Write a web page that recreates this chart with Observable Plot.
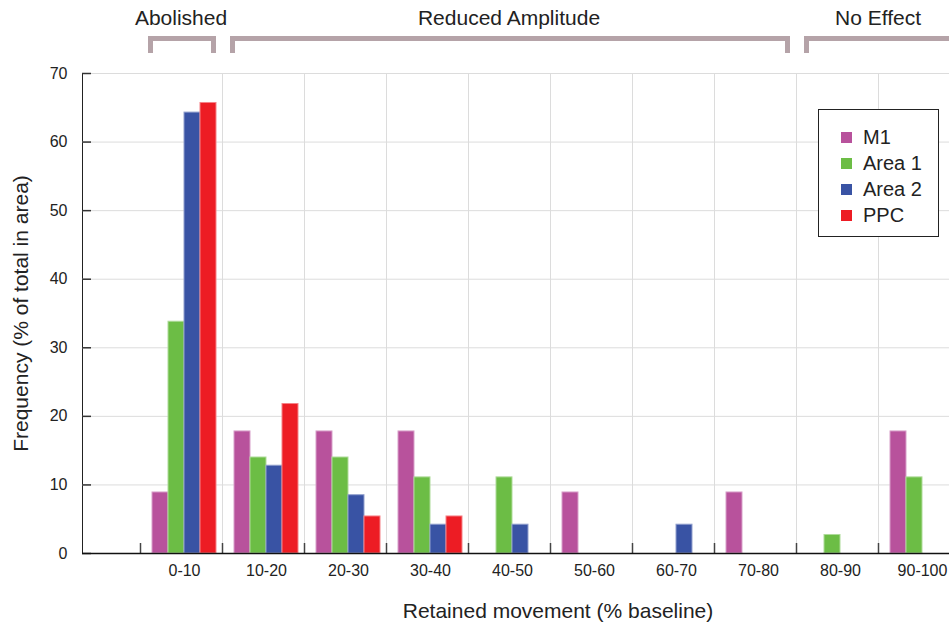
<!DOCTYPE html>
<html>
<head>
<meta charset="utf-8">
<script src="https://cdn.jsdelivr.net/npm/d3@7"></script>
<script src="https://cdn.jsdelivr.net/npm/@observablehq/plot@0.6"></script>
<style>
  body { margin: 0; background: #fff; font-family: Arial, "Liberation Sans", sans-serif; }
  #wrap { position: relative; width: 949px; height: 627px; overflow: hidden; background: #fff; }
  #legend {
    position: absolute; left: 818px; top: 109px; width: 121px; height: 128px;
    box-sizing: border-box; border: 1.5px solid #222; background: #fff;
    padding: 14px 0 0 22px; color: #222; font-size: 20px;
  }
  #legend .item { display: flex; align-items: center; height: 26px; line-height: 26px; }
  #legend .swatch { width: 11px; height: 11px; margin-right: 11px; flex: none; }
</style>
</head>
<body>
<div id="wrap"></div>
<script>
// Retained movement bins (% of baseline)
const bins = ["0-10", "10-20", "20-30", "30-40", "40-50", "50-60", "60-70", "70-80", "80-90", "90-100"];
const series = ["M1", "Area 1", "Area 2", "PPC"];
const colors = ["#b8529c", "#6cbd45", "#3953a4", "#ed1c24"];

// Frequency (% of total sites in each area) per bin
const m1Values    = [8.9, 17.8, 17.8, 17.8, 0, 8.9, 0, 8.9, 0, 17.8];
const area1Values = [33.8, 14.0, 14.0, 11.1, 11.1, 0, 0, 0, 2.7, 11.1];
const area2Values = [64.3, 12.8, 8.5, 4.2, 4.2, 0, 4.2, 0, 0, 0];
const ppcValues   = [65.7, 21.8, 5.4, 5.4, 0, 0, 0, 0, 0, 0];

const yTicks = [0, 10, 20, 30, 40, 50, 60, 70];

// Outcome groups spanning the bins
const groupLabels = ["Abolished", "Reduced Amplitude", "No Effect"];
const groupFirst  = ["0-10", "10-20", "80-90"];
const groupLast   = ["0-10", "70-80", "90-100"];

const yTitle = "Frequency (% of total in area)";
const xTitle = "Retained movement (% baseline)";

// ---- layout constants ----
const W = 949, H = 627;
const marginTop = 73, marginBottom = 74, marginLeft = 82, marginRight = 0;
const BAND = 82;            // width of one bin
const X0 = 140;             // left edge of the first bin
const BAR = 16;             // width of one bar
const GROUP_PAD = 12;       // gap from bin edge to first bar
const plotH = H - marginTop - marginBottom;

const valuesBySeries = [m1Values, area1Values, area2Values, ppcValues];
const rows = [];
series.forEach((s, j) => {
  bins.forEach((b, i) => rows.push({bin: b, series: s, value: valuesBySeries[j][i]}));
});

const lighten = (c) => d3.interpolateRgb(c, "#ffffff")(0.45);

const barMarks = series.map((s, j) =>
  Plot.barY(rows.filter(r => r.series === s && r.value > 0), {
    x: "bin", y: "value",
    fill: colors[j], stroke: lighten(colors[j]), strokeWidth: 1,
    insetLeft: GROUP_PAD + BAR * j,
    insetRight: BAND - GROUP_PAD - BAR * (j + 1)
  })
);

const chart = Plot.plot({
  width: W, height: H,
  marginTop, marginBottom, marginLeft, marginRight,
  style: {fontFamily: "Arial, 'Liberation Sans', sans-serif", fontSize: "16px", color: "#222", background: "#fff"},
  x: {type: "band", domain: bins, range: [X0, X0 + BAND * bins.length], padding: 0, axis: null},
  y: {domain: [0, 70], ticks: yTicks, tickSize: 0, tickPadding: 15, line: true, label: null},
  marks: [
    // grid
    Plot.ruleY(yTicks.slice(1), {stroke: "#dcdcdc", strokeWidth: 1}),
    Plot.ruleX(bins.slice(1), {x: d => d, dx: -BAND / 2, stroke: "#dcdcdc", strokeWidth: 1}),
    // bars
    ...barMarks,
    // y ticks pointing inward
    Plot.ruleY(yTicks, {stroke: "#333", strokeWidth: 1.5, insetRight: W - marginLeft - marginRight - 9}),
    // x ticks at bin edges pointing upward
    Plot.ruleX(bins, {x: d => d, dx: -BAND / 2, stroke: "#444", strokeWidth: 1.5, insetTop: plotH - 10}),
    // baseline
    Plot.ruleY([0], {stroke: "#111", strokeWidth: 1.5}),
    // bin labels
    Plot.text(bins, {x: d => d, y: () => 0, text: d => d, dx: 3, dy: 17, fontSize: 16, fill: "#222"}),
    // axis titles
    Plot.text([yTitle], {frameAnchor: "left", text: d => d, rotate: -90, textAnchor: "middle", lineAnchor: "middle", dx: -61, fontSize: 21, fill: "#222"}),
    Plot.text([xTitle], {frameAnchor: "bottom", text: d => d, textAnchor: "middle", lineAnchor: "middle", dx: 42, dy: 58, fontSize: 21, fill: "#222"})
  ]
});

document.getElementById("wrap").appendChild(chart);

// ---- outcome brackets above the plot, placed with the x scale ----
const sx = chart.scale("x");
const bandStart = (b) => sx.apply ? sx.apply(b) : sx.range[0] + sx.domain.indexOf(b) * sx.step;
const bw = sx.bandwidth;
const svg = d3.select(chart.tagName.toLowerCase() === "svg" ? chart : chart.querySelector("svg"));
const gB = svg.append("g");
const SW = 5;
groupLabels.forEach((label, k) => {
  const x0 = bandStart(groupFirst[k]) + 8;
  const x1 = bandStart(groupLast[k]) + bw - 6;
  gB.append("path")
    .attr("d", `M${x0 + SW / 2},53V${36 + SW / 2}H${x1 - SW / 2}V53`)
    .attr("fill", "none").attr("stroke", "#b5a3a8").attr("stroke-width", SW);
  gB.append("text")
    .attr("x", (bandStart(groupFirst[k]) + bandStart(groupLast[k]) + bw) / 2)
    .attr("y", 24.5)
    .attr("text-anchor", "middle")
    .attr("font-size", 21).attr("fill", "#222")
    .text(label);
});

// ---- legend ----
const legend = document.createElement("div");
legend.id = "legend";
series.forEach((s, j) => {
  const item = document.createElement("div");
  item.className = "item";
  const sw = document.createElement("span");
  sw.className = "swatch";
  sw.style.background = colors[j];
  const t = document.createElement("span");
  t.textContent = s;
  item.appendChild(sw); item.appendChild(t);
  legend.appendChild(item);
});
document.getElementById("wrap").appendChild(legend);
</script>
</body>
</html>
